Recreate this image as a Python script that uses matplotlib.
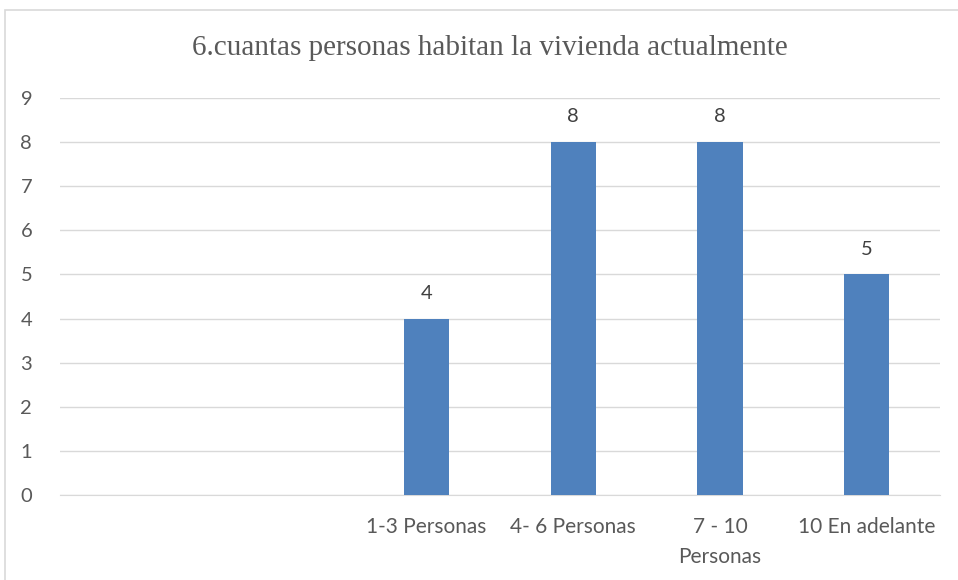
import matplotlib
matplotlib.use("Agg")
import matplotlib.pyplot as plt
from matplotlib.patches import Rectangle

# categories (first two are empty in the source sheet)
categorias = ["", "", "1-3 Personas", "4- 6 Personas", "7 - 10\nPersonas", "10 En adelante"]
valores = [None, None, 4, 8, 8, 5]
titulo = "6.cuantas personas habitan la vivienda actualmente"

plt.rcParams['font.family'] = ['Lato', 'DejaVu Sans']
gris = "#595959"

fig = plt.figure(figsize=(9.58, 5.8), dpi=100)
ax = fig.add_axes([60 / 958, 85 / 580, 880 / 958, 397 / 580])

# chart frame (right and bottom edges fall outside the image)
fig.patches.append(Rectangle((5 / 958, -0.1), 1.2, 0.1 + 570 / 580, transform=fig.transFigure,
                             fill=False, edgecolor="#d9d9d9", linewidth=1.2))

xs = range(len(categorias))
for x, v in zip(xs, valores):
    if v is None:
        continue
    ax.bar(x, v, width=0.31, color="#4f81bd", zorder=3)
    ax.text(x, v + 0.38, str(v), ha="center", va="bottom", fontsize=14.5, color="#404040")

ax.set_xlim(-0.5, len(categorias) - 0.5)
ax.set_ylim(0, 9)
ax.set_yticks(range(0, 10))
ax.set_xticks(list(xs))
ax.set_xticklabels(categorias, fontsize=15, color=gris, linespacing=1.6)
ax.tick_params(axis="y", labelsize=14.5, labelcolor=gris, length=0, pad=20)
ax.tick_params(axis="x", length=0, pad=16)
ax.grid(axis="y", color="#d9d9d9", linewidth=1, zorder=0)
for s in ["top", "right", "left"]:
    ax.spines[s].set_visible(False)
ax.spines["bottom"].set_color("#d9d9d9")

fig.text(490 / 958, 1 - 48 / 580, titulo, ha="center", va="center",
         fontsize=21, color=gris, fontfamily="Liberation Serif")

fig.savefig("out.png", dpi=100)
